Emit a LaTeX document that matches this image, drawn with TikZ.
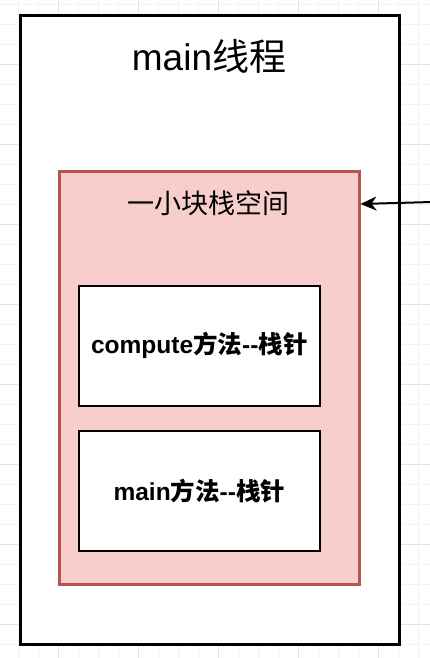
\documentclass[tikz,border=0pt]{standalone}
\usepackage{fontspec}
\setmainfont{Liberation Sans}
\newfontfamily\cjk{Noto Sans CJK SC}
\usetikzlibrary{arrows.meta}
\definecolor{gridminor}{HTML}{F3F3F3}
\definecolor{gridmajor}{HTML}{E4E4E4}
\definecolor{redfill}{HTML}{F8CECC}
\definecolor{redline}{HTML}{B85450}
\tikzset{
  boxbase/.style={rectangle, inner sep=0pt, anchor=north west},
  outerbox/.style={boxbase, draw=black, fill=white, line width=3.5pt},
  stackbox/.style={boxbase, draw=redline, fill=redfill, line width=2.5pt},
  framebox/.style={boxbase, draw=black, fill=white, line width=1.6pt},
  lbl/.style={inner sep=0pt, anchor=center},
}
\begin{document}
\begin{tikzpicture}[x=1pt,y=-1pt]
\useasboundingbox (0,0) rectangle (430,658);
\fill[white] (0,0) rectangle (430,658);
% canvas grid
\foreach \i in {-2,18,...,430} \draw[gridminor, line width=0.8pt] (\i,0) -- (\i,658);
\foreach \j in {4,24,...,658} \draw[gridminor, line width=0.8pt] (0,\j) -- (430,\j);
\foreach \i in {58,138,...,430} \draw[gridmajor, line width=0.8pt] (\i,0) -- (\i,658);
\foreach \j in {64,144,...,658} \draw[gridmajor, line width=0.8pt] (0,\j) -- (430,\j);
% boxes
\node[outerbox, minimum width=379pt, minimum height=628.5pt] (thread) at (18.5,14) {};
\node[stackbox, minimum width=300pt, minimum height=413pt] (stack) at (58,170) {};
\node[framebox, minimum width=241pt, minimum height=120pt] (compute) at (78,285) {};
\node[framebox, minimum width=241pt, minimum height=120pt] (mainf) at (78,430) {};
% labels
\node[lbl, font=\fontsize{37}{40}\selectfont] (t1) at (209,56) {main{\cjk 线程}};
\node[lbl, font=\fontsize{27}{30}\selectfont] (t2) at (208,203) {\cjk 一小块栈空间};
\node[lbl, font=\fontsize{24.5}{28}\selectfont\bfseries] (t3) at (compute.center) {compute{\cjk\bfseries 方法}-{}-{\cjk\bfseries 栈针}};
\node[lbl, font=\fontsize{24.5}{28}\selectfont\bfseries] (t4) at (mainf.center) {main{\cjk\bfseries 方法}-{}-{\cjk\bfseries 栈针}};
% arrow
\coordinate (src) at (432,202);
\coordinate (tgty) at (0,204);
\draw[line width=2pt, -{Stealth[length=16pt,width=14pt,inset=5pt]}] (src) -- (stack.east |- tgty);
\end{tikzpicture}
\end{document}
